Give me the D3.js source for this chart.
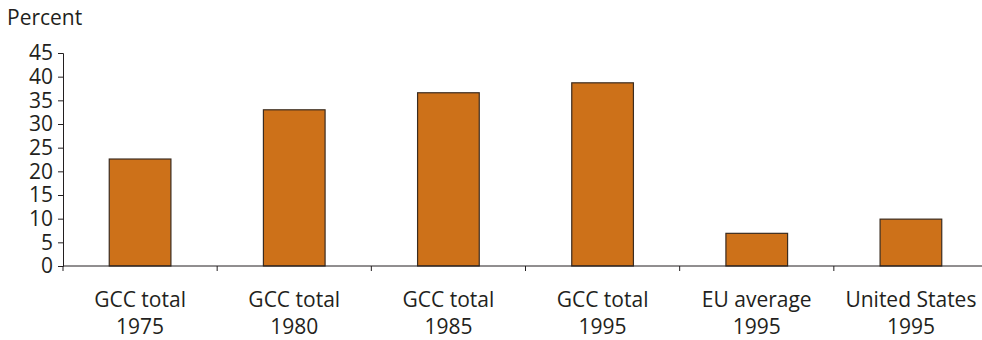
<!DOCTYPE html>
<html>
<head>
<meta charset="utf-8">
<script src="https://cdn.jsdelivr.net/npm/d3@7"></script>
<style>
  body { margin: 0; background: #fff; }
  svg text { font-family: "Open Sans", "Noto Sans", sans-serif; fill: #231f20; }
</style>
</head>
<body>
<div id="chart"></div>
<script>
const categories = ['GCC total|1975', 'GCC total|1980', 'GCC total|1985', 'GCC total|1995', 'EU average|1995', 'United States|1995'];
const values = [22.6, 33.0, 36.6, 38.7, 6.9, 9.9];
const yTicks = [0, 5, 10, 15, 20, 25, 30, 35, 40, 45];

const width = 982;
const height = 340;

const svg = d3.select('#chart')
    .append('svg')
    .attr('width', width)
    .attr('height', height);

const x = d3.scaleBand()
    .domain(categories)
    .range([63, 988])
    .paddingInner(0.6)
    .paddingOuter(0.3);

const y = d3.scaleLinear()
    .domain([0, 45])
    .range([266, 53]);

// bars
svg.append('g')
    .selectAll('rect')
    .data(values)
    .enter()
    .append('rect')
    .attr('x', (d, i) => x(categories[i]))
    .attr('y', d => y(d))
    .attr('width', x.bandwidth())
    .attr('height', d => y(0) - y(d))
    .attr('fill', '#cd7119')
    .attr('stroke', '#3b2c20')
    .attr('stroke-width', 1.2);

// y axis
const yAxis = svg.append('g')
    .attr('transform', 'translate(63,0)')
    .call(d3.axisLeft(y).tickValues(yTicks).tickSize(5).tickPadding(5));
yAxis.select('.domain').attr('stroke', '#231f20');
yAxis.selectAll('.tick line').attr('stroke', '#231f20');
yAxis.selectAll('text').attr('font-size', 21).attr('fill', '#231f20');

// x axis: ticks at band boundaries
const boundaries = categories.map((c, i) => 63 + i * (988 - 63) / categories.length);
const xg = svg.append('g');
xg.append('line')
    .attr('x1', 63).attr('x2', width)
    .attr('y1', y(0)).attr('y2', y(0))
    .attr('stroke', '#231f20').attr('stroke-width', 1);
xg.selectAll('.bt')
    .data(boundaries)
    .enter()
    .append('line')
    .attr('x1', d => d).attr('x2', d => d)
    .attr('y1', y(0)).attr('y2', y(0) + 5)
    .attr('stroke', '#231f20');

const labels = xg.selectAll('.lab')
    .data(categories)
    .enter()
    .append('text')
    .attr('text-anchor', 'middle')
    .attr('font-size', 21)
    .attr('x', d => x(d) + x.bandwidth() / 2);
labels.append('tspan')
    .attr('x', d => x(d) + x.bandwidth() / 2)
    .attr('y', 307)
    .text(d => d.split('|')[0]);
labels.append('tspan')
    .attr('x', d => x(d) + x.bandwidth() / 2)
    .attr('y', 334)
    .text(d => d.split('|')[1]);

svg.append('text')
    .attr('x', 7)
    .attr('y', 25)
    .attr('font-size', 21)
    .text('Percent');
</script>
</body>
</html>
